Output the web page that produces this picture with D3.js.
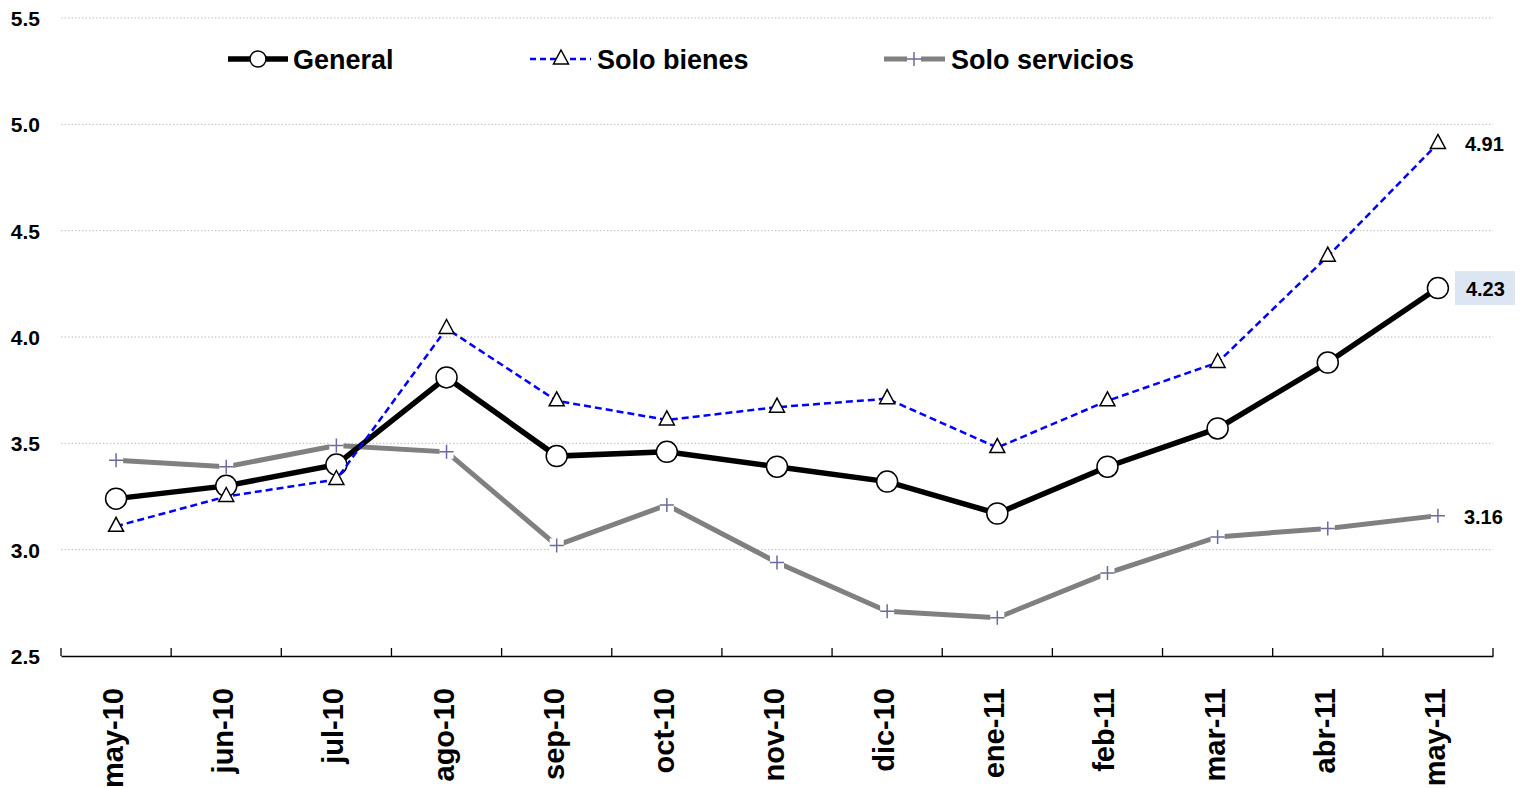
<!DOCTYPE html>
<html><head><meta charset="utf-8">
<script src="https://cdn.jsdelivr.net/npm/d3@7"></script>
<style>body{margin:0;background:#fff}svg{display:block}text{font-family:Arial,"Liberation Sans",sans-serif;font-weight:bold}</style>
</head><body><svg id="c" width="1521" height="788"></svg>
<script>
const categories = ["may-10","jun-10","jul-10","ago-10","sep-10","oct-10","nov-10","dic-10","ene-11","feb-11","mar-11","abr-11","may-11"];
const general   = [3.24,3.30,3.40,3.81,3.44,3.46,3.39,3.32,3.17,3.39,3.57,3.88,4.23];
const bienes    = [3.11,3.25,3.33,4.04,3.70,3.61,3.67,3.71,3.48,3.70,3.88,4.38,4.91];
const servicios = [3.42,3.39,3.49,3.46,3.02,3.21,2.94,2.71,2.68,2.89,3.06,3.10,3.16];
const yTicks = [2.5,3.0,3.5,4.0,4.5,5.0,5.5];
const seriesNames = ["General","Solo bienes","Solo servicios"];

const svg = d3.select("#c");
const x = d3.scaleBand().domain(categories).range([61,1493]);
const y = d3.scaleLinear().domain([2.5,5.5]).range([656,18]);
const cx = d => x(d) + x.bandwidth()/2;

// grid
svg.append("g").selectAll("line").data(yTicks.slice(1)).join("line")
  .attr("x1",61).attr("x2",1493).attr("y1",d=>y(d)).attr("y2",d=>y(d))
  .attr("stroke","#bdbdbd").attr("stroke-width",1).attr("stroke-dasharray","1.5,2");

// y labels
svg.append("g").selectAll("text").data(yTicks).join("text")
  .attr("x",40).attr("y",d=>y(d)+8).attr("text-anchor","end")
  .attr("font-size",21).text(d=>d.toFixed(1));

// x axis
const xa = svg.append("g").attr("transform","translate(0,656)")
  .call(d3.axisBottom(x).tickSize(0).tickFormat(""));
xa.select(".domain").attr("stroke","#000").attr("stroke-width",1.5);
svg.append("g").selectAll("line").data(d3.range(categories.length+1)).join("line")
  .attr("x1",i=>61+i*x.step()).attr("x2",i=>61+i*x.step())
  .attr("y1",648).attr("y2",656).attr("stroke","#000").attr("stroke-width",1.3);
svg.append("g").selectAll("text").data(categories).join("text")
  .attr("transform",d=>`translate(${cx(d)+7},688) rotate(-90)`)
  .attr("text-anchor","end").attr("font-size",29).text(d=>d);

const line = d3.line().x((d,i)=>cx(categories[i])).y(d=>y(d));

function plus(g, px, py){
  g.append("rect").attr("x",px-7).attr("y",py-7).attr("width",14).attr("height",14).attr("fill","#fff");
  g.append("path").attr("d",`M${px-7},${py}H${px+7}M${px},${py-7}V${py+7}`)
    .attr("stroke","#6b6b9e").attr("stroke-width",1.5).attr("fill","none");
}
function tri(g, px, py){
  g.append("path").attr("d",`M${px},${py-9}L${px+7.5},${py+5}L${px-7.5},${py+5}Z`)
    .attr("fill","#fff").attr("stroke","#000").attr("stroke-width",1.5);
}
function circ(g, px, py, r){
  g.append("circle").attr("cx",px).attr("cy",py).attr("r",r)
    .attr("fill","#fff").attr("stroke","#000").attr("stroke-width",1.5);
}

// servicios
svg.append("path").datum(servicios).attr("d",line).attr("fill","none")
  .attr("stroke","#808080").attr("stroke-width",5);
const gs = svg.append("g");
servicios.forEach((v,i)=>plus(gs,cx(categories[i]),y(v)));

// general
svg.append("path").datum(general).attr("d",line).attr("fill","none")
  .attr("stroke","#000").attr("stroke-width",5.5);
const gg = svg.append("g");
general.forEach((v,i)=>circ(gg,cx(categories[i]),y(v),10.5));

// bienes
svg.append("path").datum(bienes).attr("d",line).attr("fill","none")
  .attr("stroke","#0000ff").attr("stroke-width",2.5).attr("stroke-dasharray","7,4");
const gb = svg.append("g");
bienes.forEach((v,i)=>tri(gb,cx(categories[i]),y(v)));

// end labels
const last = categories.length-1, lx = cx(categories[last]);
svg.append("text").attr("x",lx+27).attr("y",y(bienes[last])+8).attr("font-size",20).text(bienes[last].toFixed(2));
svg.append("rect").attr("x",lx+17).attr("y",y(general[last])-17).attr("width",60).attr("height",34).attr("fill","#dce6f2");
svg.append("text").attr("x",lx+28).attr("y",y(general[last])+8).attr("font-size",20).text(general[last].toFixed(2));
svg.append("text").attr("x",lx+26).attr("y",y(servicios[last])+8).attr("font-size",20).text(servicios[last].toFixed(2));

// legend
const lg = svg.append("g");
const ly = 59;
lg.append("line").attr("x1",228).attr("x2",288).attr("y1",ly).attr("y2",ly).attr("stroke","#000").attr("stroke-width",5.5);
circ(lg,258,ly,8);
lg.append("text").attr("x",293).attr("y",ly+10).attr("font-size",27).text(seriesNames[0]);
lg.append("line").attr("x1",530).attr("x2",591).attr("y1",ly).attr("y2",ly).attr("stroke","#0000ff").attr("stroke-width",2.5).attr("stroke-dasharray","6,4");
tri(lg,561,ly);
lg.append("text").attr("x",597).attr("y",ly+10).attr("font-size",27).text(seriesNames[1]);
lg.append("line").attr("x1",884).attr("x2",945).attr("y1",ly).attr("y2",ly).attr("stroke","#808080").attr("stroke-width",5);
plus(lg,914,ly);
lg.append("text").attr("x",951).attr("y",ly+10).attr("font-size",27).text(seriesNames[2]);
</script></body></html>
